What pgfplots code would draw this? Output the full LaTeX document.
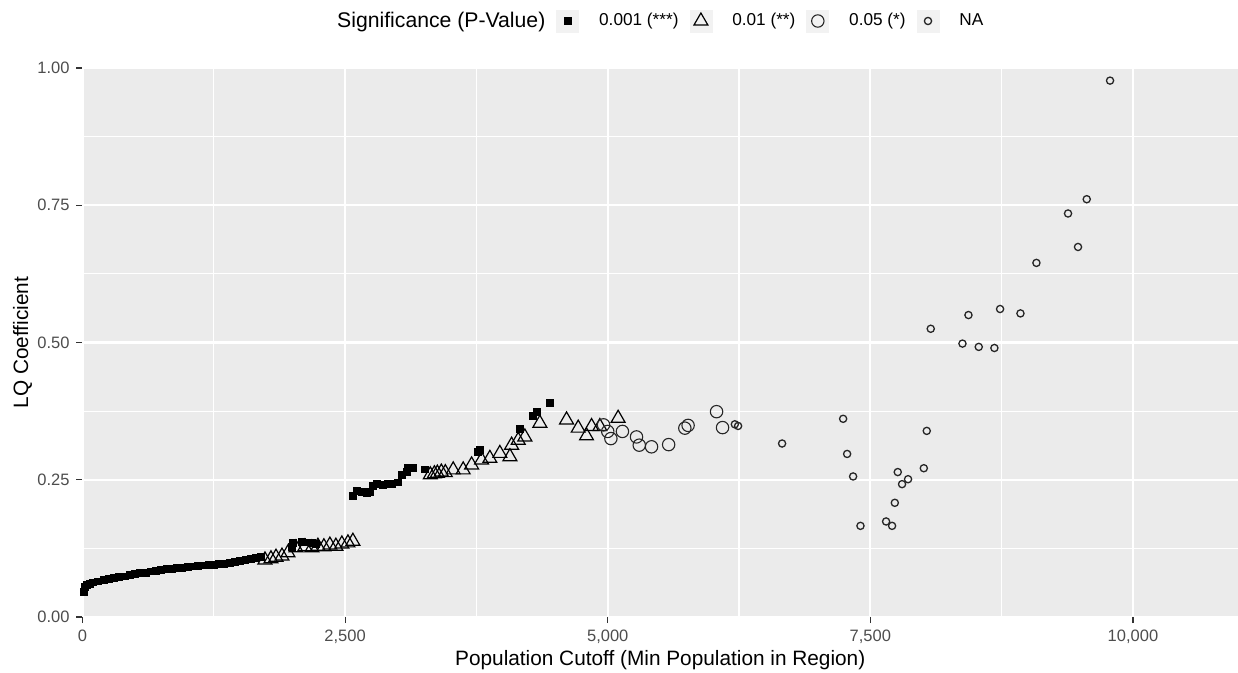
\documentclass[border=0pt]{standalone}
\usepackage{fontspec}
\setmainfont{Liberation Sans}
\usepackage{pgfplots}
\pgfplotsset{compat=1.18}
\definecolor{panelbg}{HTML}{EBEBEB}
\definecolor{keybg}{HTML}{F2F2F2}
\definecolor{ticklab}{HTML}{4D4D4D}
\definecolor{tickcol}{HTML}{333333}
\begin{document}
\begin{tikzpicture}
\begin{axis}[
  name=ax,
  scale only axis,
  width=577.75bp, height=274.5bp,
  xmin=0, xmax=11000, ymin=0, ymax=1,
  axis background/.style={fill=panelbg},
  axis line style={draw=none},
  tick pos=left,
  tick align=outside,
  major tick length=3bp,
  minor tick length=0pt,
  tick style={color=tickcol, line width=0.55bp},
  xtick={0,2500,5000,7500,10000},
  minor xtick={1250,3750,6250,8750},
  ytick={0,0.25,0.5,0.75,1},
  minor ytick={0.125,0.375,0.625,0.875},
  grid=both,
  major grid style={white, line width=1.1bp},
  minor grid style={white, line width=0.55bp},
  scaled ticks=false,
  x tick label style={/pgf/number format/.cd, 1000 sep={,}},
  y tick label style={/pgf/number format/.cd, fixed, fixed zerofill, precision=2},
  /pgf/number format/assume math mode=true,
  tick label style={font=\fontsize{8.25bp}{10bp}\selectfont, color=ticklab},
  xlabel={Population Cutoff (Min Population in Region)},
  ylabel={LQ Coefficient},
  label style={font=\fontsize{10.4bp}{12bp}\selectfont},
  xlabel style={at={(axis description cs:0.5,-0.0783)}, anchor=center},
  ylabel style={at={(axis description cs:-0.0519,0.5)}, anchor=center},
  legend columns=5,
  legend style={at={(0.5,1.0856)}, anchor=center, draw=none, fill=none, xshift=-5bp,
    font=\fontsize{8.6bp}{10bp}\selectfont, nodes={inner xsep=0pt, inner ysep=1bp},
    /tikz/every odd column/.append style={column sep=10bp},
    /tikz/every even column/.append style={column sep=5.5bp}},
  legend image code/.code={\fill[keybg] (0bp,-5.5bp) rectangle (11bp,5.5bp);
    \draw[mark repeat=2,mark phase=2,#1] plot coordinates {(0bp,0bp)(5.5bp,0bp)(11bp,0bp)};},
]
\addlegendimage{empty legend}
\addlegendentry{\fontsize{10.6bp}{12bp}\selectfont Significance (P-Value)}

\addplot[only marks, mark=square*, mark size=1.7bp, black] table {
x y
15 0.046
25 0.055
40 0.059
70 0.061
100 0.063
150 0.065
200 0.067
250 0.069
300 0.071
350 0.073
400 0.074
450 0.076
500 0.078
550 0.080
600 0.081
650 0.083
700 0.084
750 0.086
800 0.087
850 0.088
900 0.089
950 0.090
1000 0.091
1050 0.092
1100 0.093
1150 0.094
1200 0.095
1250 0.095
1300 0.096
1350 0.097
1400 0.099
1450 0.100
1500 0.102
1550 0.104
1600 0.106
1650 0.107
1700 0.109
1990 0.128
2000 0.135
2090 0.137
2130 0.136
2180 0.135
2220 0.133
2577 0.220
2609 0.230
2657 0.228
2704 0.225
2736 0.228
2768 0.239
2800 0.242
2863 0.240
2911 0.243
2942 0.243
3006 0.245
3038 0.259
3085 0.265
3101 0.271
3148 0.271
3260 0.269
3767 0.301
3783 0.305
4164 0.342
4290 0.366
4322 0.374
4449 0.390
};
\addlegendentry{0.001 (***)}

\addplot[only marks, mark=triangle, mark size=4bp, black, mark options={solid, line width=0.6bp}] table {
x y
1737 0.104
1794 0.106
1842 0.109
1899 0.111
1956 0.117
2032 0.126
2117 0.128
2184 0.126
2241 0.129
2298 0.128
2355 0.131
2412 0.129
2469 0.133
2527 0.135
2574 0.138
3311 0.259
3350 0.261
3378 0.262
3416 0.264
3454 0.263
3529 0.268
3624 0.268
3704 0.277
3799 0.286
3878 0.289
3973 0.298
4069 0.292
4085 0.313
4148 0.322
4211 0.328
4354 0.353
4608 0.359
4719 0.344
4798 0.330
4846 0.347
4925 0.347
5099 0.362
};
\addlegendentry{0.01 (**)}

\addplot[only marks, mark=o, mark size=3.1bp, black!85, mark options={solid, line width=0.55bp}] table {
x y
4960 0.350
5000 0.338
5030 0.325
5140 0.338
5274 0.328
5300 0.313
5417 0.310
5580 0.314
5734 0.344
5765 0.349
6036 0.374
6093 0.345
};
\addlegendentry{0.05 (*)}

\addplot[only marks, mark=o, mark size=1.8bp, black!85, mark options={solid, line width=0.65bp}] table {
x y
6210 0.351
6241 0.348
6660 0.316
7241 0.361
7279 0.297
7336 0.256
7406 0.166
7650 0.174
7707 0.166
7733 0.208
7761 0.264
7802 0.242
7859 0.251
8009 0.271
8037 0.339
8075 0.525
8377 0.498
8434 0.550
8532 0.492
8681 0.490
8735 0.561
8929 0.553
9081 0.645
9382 0.735
9477 0.674
9560 0.761
9782 0.977
};
\addlegendentry{NA}
\end{axis}
\pgfresetboundingbox
\path[use as bounding box] ([xshift=-41.25bp,yshift=-28bp]ax.south west) rectangle ([yshift=34bp]ax.north east);
\end{tikzpicture}
\end{document}
